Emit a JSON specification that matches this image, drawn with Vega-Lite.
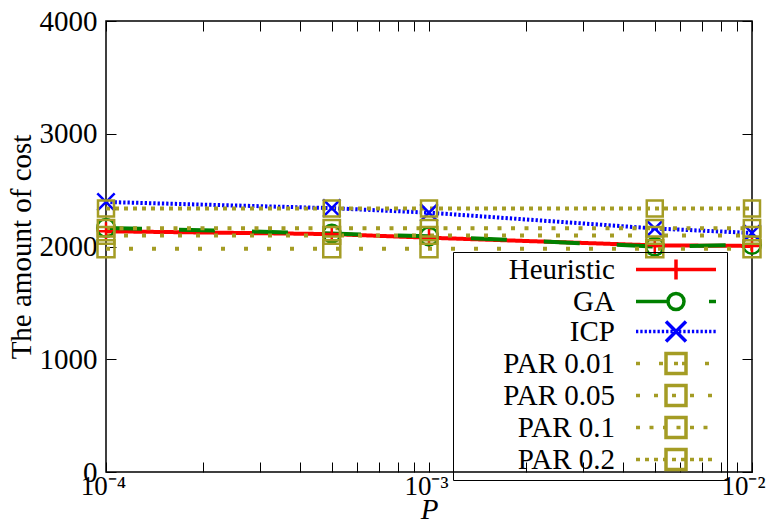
{
  "$schema": "https://vega.github.io/schema/vega-lite/v6.json",
  "autosize": "none",
  "width": 646,
  "height": 451,
  "padding": {"left": 106, "top": 21, "right": 17, "bottom": 52},
  "config": {
    "font": "Liberation Serif",
    "view": {"stroke": "black", "strokeWidth": 1.5},
    "axis": {"grid": false, "domain": false, "tickColor": "black", "labelColor": "black", "titleColor": "black", "labelFont": "Liberation Serif", "titleFont": "Liberation Serif", "labelFontSize": 29, "titleFontSize": 29, "titleFontWeight": "normal"}
  },
  "data": {
    "values": [
      {"p": 0.0001, "cost": 2135, "series": "Heuristic"},
      {"p": 0.0005, "cost": 2110, "series": "Heuristic"},
      {"p": 0.001, "cost": 2078, "series": "Heuristic"},
      {"p": 0.005, "cost": 2010, "series": "Heuristic"},
      {"p": 0.01, "cost": 2005, "series": "Heuristic"},
      {"p": 0.0001, "cost": 2165, "series": "GA"},
      {"p": 0.0005, "cost": 2115, "series": "GA"},
      {"p": 0.001, "cost": 2090, "series": "GA"},
      {"p": 0.005, "cost": 2000, "series": "GA"},
      {"p": 0.01, "cost": 2015, "series": "GA"},
      {"p": 0.0001, "cost": 2395, "series": "ICP"},
      {"p": 0.0005, "cost": 2340, "series": "ICP"},
      {"p": 0.001, "cost": 2300, "series": "ICP"},
      {"p": 0.005, "cost": 2160, "series": "ICP"},
      {"p": 0.01, "cost": 2120, "series": "ICP"},
      {"p": 0.0001, "cost": 1980, "series": "PAR 0.01"},
      {"p": 0.0005, "cost": 1980, "series": "PAR 0.01"},
      {"p": 0.001, "cost": 1980, "series": "PAR 0.01"},
      {"p": 0.005, "cost": 1980, "series": "PAR 0.01"},
      {"p": 0.01, "cost": 1980, "series": "PAR 0.01"},
      {"p": 0.0001, "cost": 2098, "series": "PAR 0.05"},
      {"p": 0.0005, "cost": 2098, "series": "PAR 0.05"},
      {"p": 0.001, "cost": 2098, "series": "PAR 0.05"},
      {"p": 0.005, "cost": 2098, "series": "PAR 0.05"},
      {"p": 0.01, "cost": 2098, "series": "PAR 0.05"},
      {"p": 0.0001, "cost": 2162, "series": "PAR 0.1"},
      {"p": 0.0005, "cost": 2162, "series": "PAR 0.1"},
      {"p": 0.001, "cost": 2162, "series": "PAR 0.1"},
      {"p": 0.005, "cost": 2162, "series": "PAR 0.1"},
      {"p": 0.01, "cost": 2162, "series": "PAR 0.1"},
      {"p": 0.0001, "cost": 2338, "series": "PAR 0.2"},
      {"p": 0.0005, "cost": 2338, "series": "PAR 0.2"},
      {"p": 0.001, "cost": 2338, "series": "PAR 0.2"},
      {"p": 0.005, "cost": 2338, "series": "PAR 0.2"},
      {"p": 0.01, "cost": 2338, "series": "PAR 0.2"}
    ]
  },
  "resolve": {"scale": {"shape": "independent"}},
  "layer": [
    {
      "mark": {"type": "line", "strokeWidth": 4, "strokeCap": "butt"},
      "encoding": {
        "x": {
          "field": "p", "type": "quantitative",
          "scale": {"type": "log", "domain": [0.0001, 0.01], "nice": false},
          "axis": {
            "orient": "bottom",
            "values": [0.0001, 0.0002, 0.0003, 0.0004, 0.0005, 0.0006, 0.0007, 0.0008, 0.0009, 0.001, 0.002, 0.003, 0.004, 0.005, 0.006, 0.007, 0.008, 0.009, 0.01],
            "labelExpr": "datum.value == 0.0001 ? '10⁻⁴' : (datum.value == 0.001 ? '10⁻³' : (datum.value == 0.01 ? '10⁻²' : ''))",
            "labelFontSize": 27,
            "tickSize": -10,
            "labelPadding": 11,
            "labelFlush": false,
            "labelOverlap": false,
            "labelBound": false,
            "labelOffset": {"condition": {"test": "datum.value == 0.01", "value": -9}, "value": -3},
            "title": "P",
            "titleFontStyle": "italic",
            "titlePadding": -4,
            "encode": {
              "ticks": {"update": {"y2": {"signal": "abs(log(datum.value)/LN10 - round(log(datum.value)/LN10)) < 0.01 ? -10 : -5"}}}
            }
          }
        },
        "y": {
          "field": "cost", "type": "quantitative",
          "scale": {"domain": [0, 4000], "nice": false},
          "axis": {
            "orient": "left",
            "values": [0, 1000, 2000, 3000, 4000],
            "format": "d",
            "tickSize": -10,
            "labelPadding": 19,
            "title": "The amount of cost",
            "titlePadding": 3
          }
        },
        "color": {
          "field": "series", "type": "nominal",
          "scale": {"domain": ["Heuristic", "GA", "ICP", "PAR 0.01", "PAR 0.05", "PAR 0.1", "PAR 0.2"],
                    "range": ["#ff0000", "#008000", "#0000ff", "#a49c24", "#a49c24", "#a49c24", "#a49c24"]},
          "legend": null
        },
        "strokeDash": {
          "field": "series", "type": "nominal",
          "scale": {"domain": ["Heuristic", "GA", "ICP", "PAR 0.01", "PAR 0.05", "PAR 0.1", "PAR 0.2"],
                    "range": [[1, 0], [36, 37], [2.3, 2], [4, 19], [4, 14], [4, 9.5], [4, 5]]},
          "legend": null
        }
      }
    },
    {
      "mark": {"type": "point", "filled": false, "strokeWidth": 2.5, "opacity": 1},
      "encoding": {
        "x": {
          "field": "p", "type": "quantitative",
          "axis": {
            "orient": "top",
            "values": [0.0001, 0.0002, 0.0003, 0.0004, 0.0005, 0.0006, 0.0007, 0.0008, 0.0009, 0.001, 0.002, 0.003, 0.004, 0.005, 0.006, 0.007, 0.008, 0.009, 0.01],
            "labels": false, "title": null, "tickSize": -10,
            "encode": {"ticks": {"update": {"y2": {"signal": "abs(log(datum.value)/LN10 - round(log(datum.value)/LN10)) < 0.01 ? 10 : 5"}}}}
          }
        },
        "y": {
          "field": "cost", "type": "quantitative",
          "axis": {"orient": "right", "values": [0, 1000, 2000, 3000, 4000], "labels": false, "title": null, "tickSize": -10}
        },
        "color": {"field": "series", "type": "nominal", "legend": null},
        "shape": {
          "field": "series", "type": "nominal",
          "scale": {"domain": ["Heuristic", "GA", "ICP", "PAR 0.01", "PAR 0.05", "PAR 0.1", "PAR 0.2"],
                    "range": ["M-1,0H1M0,-1V1", "circle", "M-1,-1L1,1M-1,1L1,-1", "square", "square", "square", "square"]},
          "legend": null
        },
        "size": {
          "field": "series", "type": "nominal",
          "scale": {"domain": ["Heuristic", "GA", "ICP", "PAR 0.01", "PAR 0.05", "PAR 0.1", "PAR 0.2"],
                    "range": [324, 256, 324, 361, 361, 361, 361]},
          "legend": null
        }
      }
    },
    {
      "transform": [{"filter": "false"}],
      "mark": {"type": "point", "filled": false},
      "encoding": {
        "x": {"field": "p", "type": "quantitative", "axis": null},
        "y": {"field": "cost", "type": "quantitative", "axis": null},
        "shape": {
          "field": "series", "type": "nominal",
          "scale": {"domain": ["Heuristic", "GA", "ICP", "PAR 0.01", "PAR 0.05", "PAR 0.1", "PAR 0.2"],
                    "range": [
                      "M-4,0H4M0,-1V1",
                      "M-4,0H-0.8M3.3,0H4M0.8,0A0.8,0.8,0,1,1,-0.8,0A0.8,0.8,0,1,1,0.8,0",
                      "M-4,0h0.23M-3.57,0h0.23M-3.14,0h0.23M-2.71,0h0.23M-2.28,0h0.23M-1.85,0h0.23M-1.42,0h0.23M-0.99,0h0.23M-0.56,0h0.23M-0.13,0h0.23M0.3,0h0.23M0.73,0h0.23M1.16,0h0.23M1.59,0h0.23M2.02,0h0.23M2.45,0h0.23M2.88,0h0.23M3.31,0h0.23M3.74,0h0.23M-1,-1L1,1M-1,1L1,-1",
                      "M-4,0h0.4M-1.7,0h0.4M0.6,0h0.4M2.9,0h0.4M-0.2,0h0.4M-1,-1H1V1H-1Z",
                      "M-4,0h0.4M-2.2,0h0.4M-0.4,0h0.4M1.4,0h0.4M3.2,0h0.4M-1,-1H1V1H-1Z",
                      "M-4,0h0.4M-2.65,0h0.4M-1.3,0h0.4M0.05,0h0.4M1.4,0h0.4M2.75,0h0.4M-1,-1H1V1H-1Z",
                      "M-4,0h0.4M-3.1,0h0.4M-2.2,0h0.4M-1.3,0h0.4M-0.4,0h0.4M0.5,0h0.4M1.4,0h0.4M2.3,0h0.4M3.2,0h0.4M-1,-1H1V1H-1Z"
                    ]},
          "legend": {
            "orient": "none", "legendX": 347, "legendY": 231,
            "title": ".", "titleOrient": "right", "titleOpacity": 0, "titleFontSize": 1, "titlePadding": 0,
            "symbolSize": 400, "symbolStrokeWidth": 3.5, "symbolFillColor": "transparent", "symbolOpacity": 1,
            "symbolStrokeColor": {"expr": "scale('color', datum.value)"},
            "symbolOffset": 205.5,
            "labelFontSize": 29, "labelFont": "Liberation Serif", "labelColor": "black",
            "labelAlign": "right", "labelOffset": -75.5, "labelLimit": 0,
            "rowPadding": -4.6,
            "strokeColor": "black", "padding": 3
          }
        }
      }
    }
  ]
}
